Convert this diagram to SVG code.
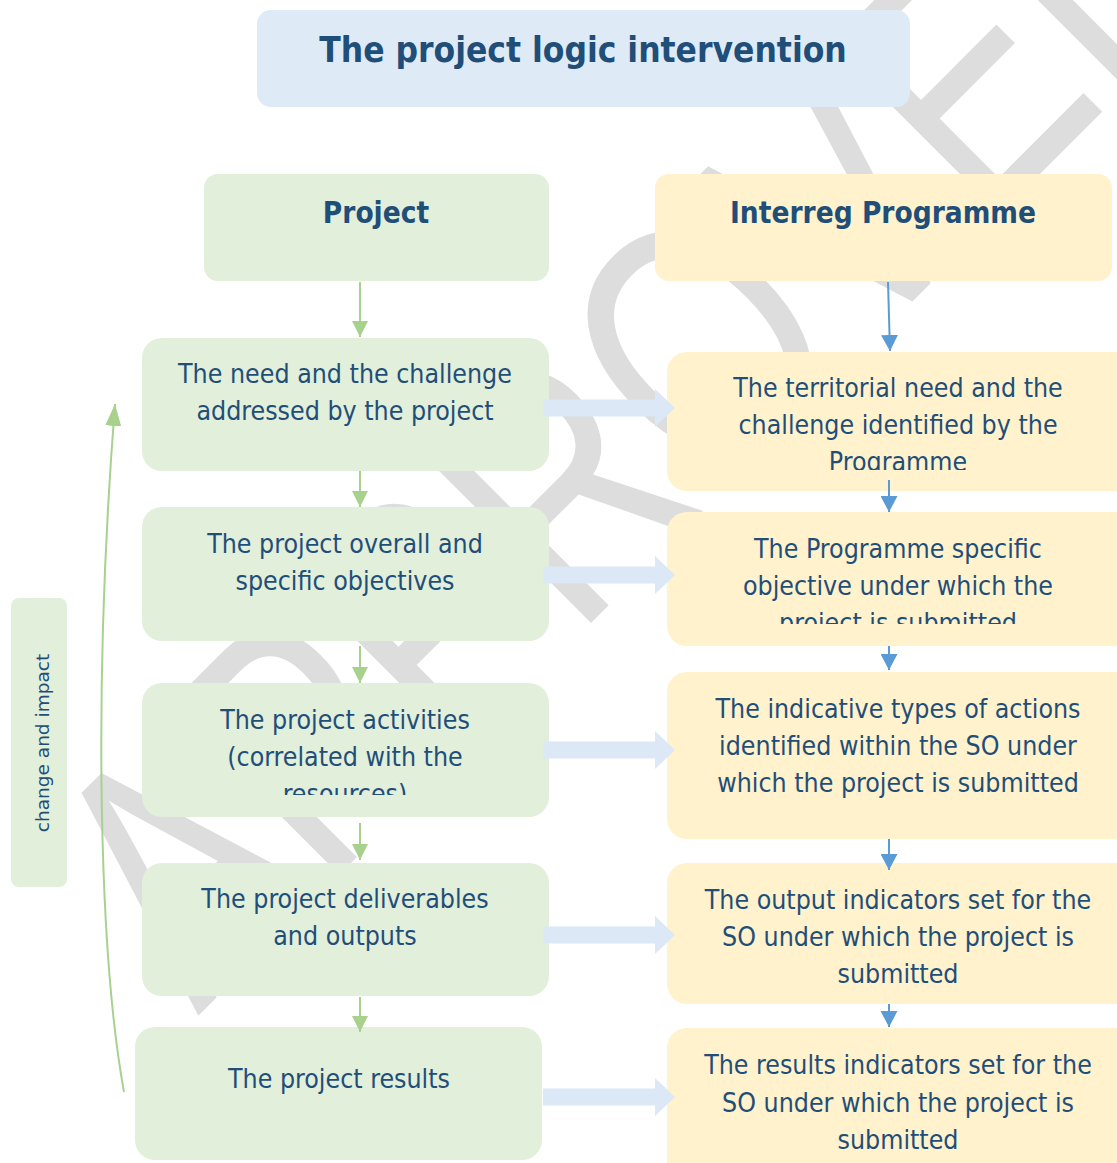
<svg xmlns="http://www.w3.org/2000/svg" xmlns:xlink="http://www.w3.org/1999/xlink" width="1117" height="1163" viewBox="0 0 1117 1163">
<style>
.wm{font-family:"Liberation Sans",Arial,sans-serif;font-size:349px;fill:#dddddd}
.g{fill:#e2efda}
.y{fill:#fff2cc}
.b{fill:#deebf7}
.t{font-family:"DejaVu Sans Condensed","DejaVu Sans",sans-serif;font-stretch:condensed;font-size:26.5px;fill:#1f4e79;text-anchor:middle}
.h{font-family:"DejaVu Sans Condensed","DejaVu Sans",sans-serif;font-stretch:condensed;font-weight:bold;fill:#1f4e79;text-anchor:middle}
.ci{font-family:"DejaVu Sans",sans-serif;font-size:18.5px;fill:#1f4e79;text-anchor:middle}
.lg{stroke:#a9d18e;stroke-width:2;fill:none}
.lb{stroke:#5b9bd5;stroke-width:2;fill:none}
.blk{fill:#dce8f5}
</style>
<defs>
<marker id="ag" markerUnits="userSpaceOnUse" markerWidth="16" markerHeight="16" refX="16" refY="8" orient="auto"><path d="M0,0 L16,8 L0,16 Z" fill="#a9d18e"/></marker>
<marker id="ab" markerUnits="userSpaceOnUse" markerWidth="16" markerHeight="17" refX="16" refY="8.5" orient="auto"><path d="M0,0 L16,8.5 L0,17 Z" fill="#5b9bd5"/></marker>
<marker id="ac" markerUnits="userSpaceOnUse" markerWidth="22" markerHeight="16" refX="22" refY="8" orient="auto"><path d="M0,0 L22,8 L0,16 Z" fill="#a9d18e"/></marker>
<path id="blkarrow" d="M0,-8.5 H112 V-19 L132,0 L112,19 V8.5 H0 Z"/>
<clipPath id="cR1"><rect x="667" y="352" width="460" height="118"/></clipPath>
<clipPath id="cR2"><rect x="667" y="512" width="460" height="112"/></clipPath>
<clipPath id="cL3"><rect x="142" y="683" width="407" height="112"/></clipPath>
</defs>

<g id="watermark">
<text class="wm" transform="translate(198,1016) rotate(-45)" textLength="1483" lengthAdjust="spacingAndGlyphs">APPROVED</text>
</g>

<g id="title">
<rect class="b" x="257" y="10" width="653" height="97" rx="14"/>
<text class="h" x="583" y="62" font-size="35">The project logic intervention</text>
</g>

<g id="project-header">
<rect class="g" x="204" y="174" width="345" height="107" rx="14"/>
<text class="h" x="376" y="223" font-size="29.5">Project</text>
</g>

<g id="programme-header">
<rect class="y" x="655" y="174" width="457" height="107" rx="14"/>
<text class="h" x="883" y="223" font-size="29.5">Interreg Programme</text>
</g>

<g id="change-impact">
<rect class="g" x="11" y="598" width="56" height="289" rx="8"/>
<text class="ci" transform="translate(49,743) rotate(-90)">change and impact</text>
</g>

<g id="p-need">
<rect class="g" x="142" y="338" width="407" height="133" rx="20"/>
<text class="t" x="345" y="383">The need and the challenge</text>
<text class="t" x="345" y="420">addressed by the project</text>
</g>

<g id="p-objectives">
<rect class="g" x="142" y="507" width="407" height="134" rx="20"/>
<text class="t" x="345" y="553">The project overall and</text>
<text class="t" x="345" y="590">specific objectives</text>
</g>

<g id="p-activities">
<rect class="g" x="142" y="683" width="407" height="134" rx="20"/>
<g clip-path="url(#cL3)">
<text class="t" x="345" y="729">The project activities</text>
<text class="t" x="345" y="766">(correlated with the</text>
<text class="t" x="345" y="803">resources)</text>
</g>
</g>

<g id="p-deliverables">
<rect class="g" x="142" y="863" width="407" height="133" rx="20"/>
<text class="t" x="345" y="908">The project deliverables</text>
<text class="t" x="345" y="945">and outputs</text>
</g>

<g id="p-results">
<rect class="g" x="135" y="1027" width="407" height="133" rx="20"/>
<text class="t" x="339" y="1088">The project results</text>
</g>

<g id="r-need">
<rect class="y" x="667" y="352" width="470" height="139" rx="20"/>
<g clip-path="url(#cR1)">
<text class="t" x="898" y="397">The territorial need and the</text>
<text class="t" x="898" y="434">challenge identified by the</text>
<text class="t" x="898" y="471">Programme</text>
</g>
</g>

<g id="r-objective">
<rect class="y" x="667" y="512" width="470" height="134" rx="20"/>
<g clip-path="url(#cR2)">
<text class="t" x="898" y="558">The Programme specific</text>
<text class="t" x="898" y="595">objective under which the</text>
<text class="t" x="898" y="632">project is submitted</text>
</g>
</g>

<g id="r-actions">
<rect class="y" x="667" y="672" width="470" height="167" rx="20"/>
<text class="t" x="898" y="718">The indicative types of actions</text>
<text class="t" x="898" y="755">identified within the SO under</text>
<text class="t" x="898" y="792">which the project is submitted</text>
</g>

<g id="r-output">
<rect class="y" x="667" y="863" width="470" height="141" rx="20"/>
<text class="t" x="898" y="909">The output indicators set for the</text>
<text class="t" x="898" y="946">SO under which the project is</text>
<text class="t" x="898" y="983">submitted</text>
</g>

<g id="r-results">
<rect class="y" x="667" y="1028" width="470" height="160" rx="20"/>
<text class="t" x="898" y="1074">The results indicators set for the</text>
<text class="t" x="898" y="1112">SO under which the project is</text>
<text class="t" x="898" y="1149">submitted</text>
</g>

<g id="connectors">
<use href="#blkarrow" class="blk" x="543" y="408"/>
<use href="#blkarrow" class="blk" x="543" y="575"/>
<use href="#blkarrow" class="blk" x="543" y="750"/>
<use href="#blkarrow" class="blk" x="543" y="935"/>
<use href="#blkarrow" class="blk" x="543" y="1097"/>
<line class="lg" x1="360" y1="282" x2="360" y2="337" marker-end="url(#ag)"/>
<line class="lg" x1="360" y1="471" x2="360" y2="507" marker-end="url(#ag)"/>
<line class="lg" x1="360" y1="646" x2="360" y2="683" marker-end="url(#ag)"/>
<line class="lg" x1="360" y1="823" x2="360" y2="860" marker-end="url(#ag)"/>
<line class="lg" x1="360" y1="997" x2="360" y2="1032" marker-end="url(#ag)"/>
<line class="lb" x1="888" y1="282" x2="890" y2="351" marker-end="url(#ab)"/>
<line class="lb" x1="889" y1="480" x2="889" y2="512" marker-end="url(#ab)"/>
<line class="lb" x1="889" y1="646" x2="889" y2="670" marker-end="url(#ab)"/>
<line class="lb" x1="889" y1="839" x2="889" y2="870" marker-end="url(#ab)"/>
<line class="lb" x1="889" y1="1004" x2="889" y2="1027" marker-end="url(#ab)"/>
<path class="lg" d="M124,1092 C100,960 92,700 115,404" marker-end="url(#ac)"/>
</g>
</svg>
